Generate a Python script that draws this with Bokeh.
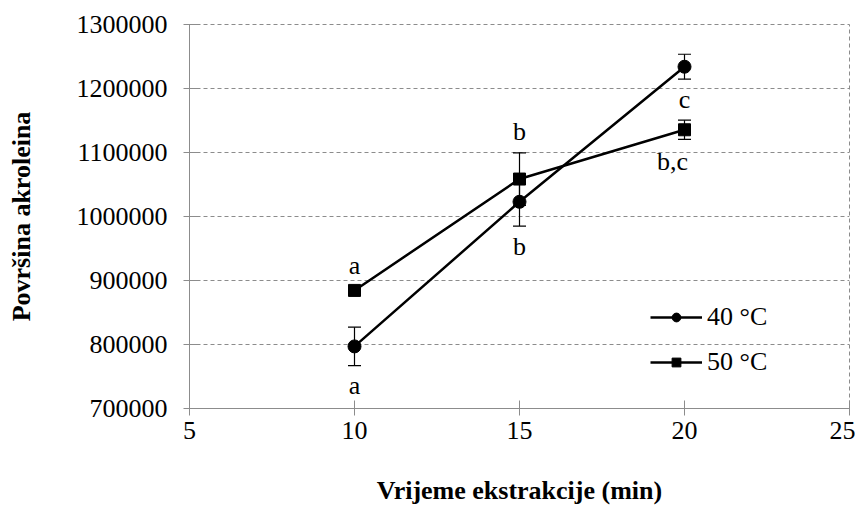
from bokeh.plotting import figure
from bokeh.models import (ColumnDataSource, Range1d, FixedTicker, NumeralTickFormatter,
                          Whisker, TeeHead, Legend, LegendItem, LabelSet)
from bokeh.embed import file_html
from bokeh.resources import INLINE

# Data
time_min = [10, 15, 20]
area_40 = [797000, 1023000, 1234000]
err_40 = [30000, 38000, 19500]
sig_40 = ["a", "b", "c"]
area_50 = [884500, 1058500, 1135500]
err_50 = [6000, 41000, 15000]
sig_50 = ["a", "b", "b,c"]
y_ticks = [700000, 800000, 900000, 1000000, 1100000, 1200000, 1300000]
x_ticks = [5, 10, 15, 20, 25]

FONT = "Liberation Serif"
AFONT = "Times New Roman"
GRAY = "#8c8c8c"

p = figure(frame_width=660, frame_height=384, output_backend="svg", toolbar_location=None,
           x_range=Range1d(5, 25), y_range=Range1d(700000, 1300000))
p.min_border_left = 189
p.min_border_right = 6
p.min_border_top = 24
p.min_border_bottom = 100
p.background_fill_color = "white"
p.border_fill_color = "white"
p.outline_line_color = GRAY
p.outline_line_dash = "4 3"
p.outline_line_width = 1

p.xgrid.grid_line_color = None
p.ygrid.grid_line_color = GRAY
p.ygrid.grid_line_dash = "4 3"
p.ygrid.grid_line_width = 1

p.yaxis.ticker = FixedTicker(ticks=y_ticks)
p.xaxis.ticker = FixedTicker(ticks=x_ticks)
p.yaxis.formatter = NumeralTickFormatter(format="0")
for ax in (p.xaxis, p.yaxis):
    ax.axis_line_color = GRAY
    ax.major_tick_line_color = GRAY
    ax.minor_tick_line_color = None
    ax.major_label_text_font = AFONT
    ax.major_label_text_font_size = "26px"
    ax.major_label_text_color = "black"
    ax.axis_label_text_font = AFONT
    ax.axis_label_text_font_style = "bold"
    ax.axis_label_text_font_size = "26px"
    ax.axis_label_text_color = "black"
p.yaxis.major_tick_in = 9
p.yaxis.major_tick_out = 6
p.yaxis.major_label_standoff = 16
p.yaxis.axis_label = "Površina akroleina"
p.yaxis.axis_label_standoff = 38
p.xaxis.major_tick_in = 8
p.xaxis.major_tick_out = 7
p.xaxis.major_label_standoff = 6
p.xaxis.axis_label = "Vrijeme ekstrakcije (min)"
p.xaxis.axis_label_standoff = 34

src40 = ColumnDataSource(dict(x=time_min, y=area_40,
                              up=[v + e for v, e in zip(area_40, err_40)],
                              lo=[v - e for v, e in zip(area_40, err_40)],
                              lab=sig_40))
src50 = ColumnDataSource(dict(x=time_min, y=area_50,
                              up=[v + e for v, e in zip(area_50, err_50)],
                              lo=[v - e for v, e in zip(area_50, err_50)],
                              lab=sig_50))

for src in (src40, src50):
    w = Whisker(source=src, base="x", upper="up", lower="lo", dimension="height",
                line_color="black", line_width=1.2,
                upper_head=TeeHead(size=13, line_color="black", line_width=1.2),
                lower_head=TeeHead(size=13, line_color="black", line_width=1.2))
    p.add_layout(w)

l40 = p.line("x", "y", source=src40, line_color="black", line_width=2.5)
m40 = p.scatter("x", "y", source=src40, marker="circle", size=13, fill_color="black", line_color="black")
l50 = p.line("x", "y", source=src50, line_color="black", line_width=2.5)
m50 = p.scatter("x", "y", source=src50, marker="square", size=12, fill_color="black", line_color="black")

# significance letters
lab40 = LabelSet(x="x", y="lo", text="lab", source=src40, y_offset=-20,
                 text_align="center", text_baseline="middle",
                 text_font=FONT, text_font_size="26px", text_color="black")
lab50a = ColumnDataSource(dict(x=time_min[:2], y=[v + e for v, e in zip(area_50[:2], err_50[:2])], lab=sig_50[:2]))
lab50b = ColumnDataSource(dict(x=time_min[2:], y=[v - e for v, e in zip(area_50[2:], err_50[2:])], lab=sig_50[2:]))
lab50_up = LabelSet(x="x", y="y", text="lab", source=lab50a, y_offset=21,
                    text_align="center", text_baseline="middle",
                    text_font=FONT, text_font_size="26px", text_color="black")
lab50_dn = LabelSet(x="x", y="y", text="lab", source=lab50b, y_offset=-22, x_offset=-12,
                    text_align="center", text_baseline="middle",
                    text_font=FONT, text_font_size="26px", text_color="black")
p.add_layout(lab40)
p.add_layout(lab50_up)
p.add_layout(lab50_dn)

legend = Legend(items=[LegendItem(label="40 °C", renderers=[l40, m40]),
                       LegendItem(label="50 °C", renderers=[l50, m50])],
                location=(461, 24), orientation="vertical",
                padding=0, margin=0, spacing=0,
                glyph_width=52, glyph_height=22, label_height=45, label_standoff=5,
                label_text_font=AFONT, label_text_font_size="26px", label_text_color="black",
                border_line_color=None, background_fill_alpha=0)
p.add_layout(legend)

open("out.html", "w").write(file_html(p, INLINE))
